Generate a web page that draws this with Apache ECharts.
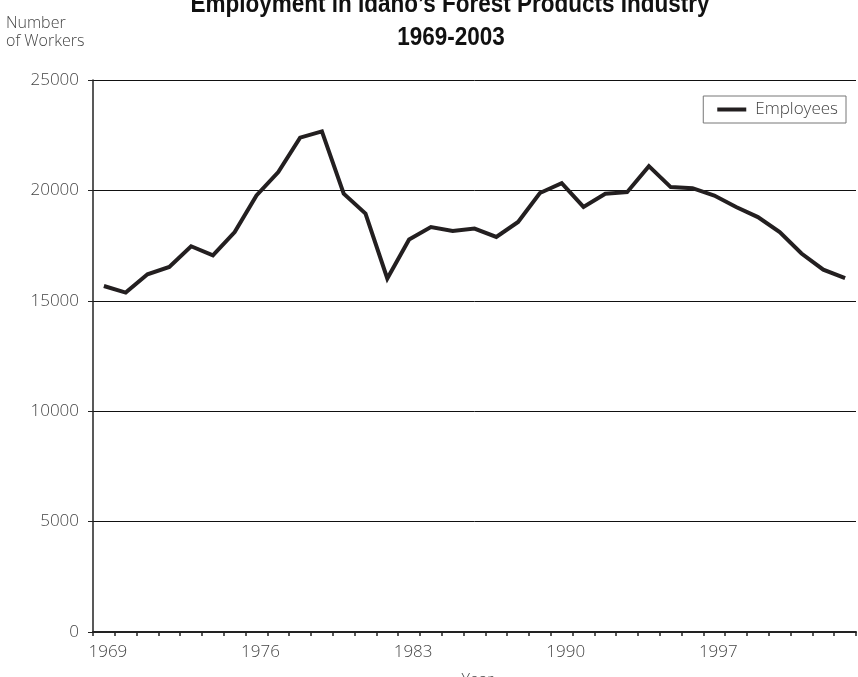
<!DOCTYPE html>
<html>
<head>
<meta charset="utf-8">
<script src="https://cdn.jsdelivr.net/npm/echarts@6/dist/echarts.min.js"></script>
<style>
  html, body { margin: 0; padding: 0; background: #fff; }
  #chart { width: 858px; height: 677px; }
</style>
</head>
<body>
<div id="chart"></div>
<script>
var years = ['1969','1970','1971','1972','1973','1974','1975','1976','1977','1978','1979','1980','1981','1982','1983','1984','1985','1986','1987','1988','1989','1990','1991','1992','1993','1994','1995','1996','1997','1998','1999','2000','2001','2002','2003'];
var employees = [15670,15370,16200,16530,17470,17060,18110,19770,20830,22390,22670,19850,18950,16010,17780,18340,18160,18270,17890,18570,19880,20330,19250,19850,19920,21100,20150,20100,19770,19250,18790,18110,17140,16410,16030];
var yTicks = [0, 5000, 10000, 15000, 20000, 25000];
var titleLine1 = "Employment in Idaho\u2019s Forest Products Industry";
var titleLine2 = "1969-2003";
var yName = "Number\nof Workers";
var xName = "Year";
var seriesName = "Employees";

var labelFont = "'Open Sans', 'Lato', 'DejaVu Sans', sans-serif";
var titleFont = "'Liberation Sans', Arial, sans-serif";
var chart = echarts.init(document.getElementById('chart'), null, { renderer: 'canvas' });
chart.setOption({
  animation: false,
  backgroundColor: '#ffffff',
  graphic: [{
    type: 'text',
    x: 450,
    y: -7,
    scaleX: 0.9,
    style: {
      text: titleLine1,
      fontFamily: titleFont,
      fontWeight: 'bold',
      fontSize: 25,
      align: 'center',
      verticalAlign: 'top',
      fill: '#111111'
    }
  }, {
    type: 'text',
    x: 451,
    y: 26,
    scaleX: 0.9,
    style: {
      text: titleLine2,
      fontFamily: titleFont,
      fontWeight: 'bold',
      fontSize: 25,
      align: 'center',
      verticalAlign: 'top',
      fill: '#111111'
    }
  }, {
    type: 'text',
    left: 6,
    top: 14,
    style: {
      text: yName,
      fontFamily: labelFont,
      fontWeight: 300,
      fontSize: 16,
      lineHeight: 18,
      align: 'center',
      fill: '#444444'
    }
  }],
  legend: {
    right: 12,
    top: 96,
    data: [seriesName],
    icon: 'rect',
    itemWidth: 29,
    itemHeight: 4,
    padding: [5, 8, 5, 14],
    borderColor: '#777777',
    borderWidth: 1,
    borderRadius: 0,
    textStyle: {
      fontFamily: labelFont,
      fontWeight: 300,
      fontSize: 17,
      lineHeight: 16,
      color: '#444444',
      padding: [0, 0, 0, 4]
    }
  },
  grid: {
    left: 93,
    right: 2,
    top: 80,
    bottom: 45,
    containLabel: false,
    outerBoundsMode: 'none'
  },
  xAxis: {
    type: 'category',
    data: years,
    boundaryGap: true,
    name: xName,
    nameLocation: 'middle',
    nameGap: 40,
    nameTextStyle: {
      fontFamily: labelFont,
      fontWeight: 300,
      fontSize: 16,
      color: '#444444',
      padding: [0, 0, 0, 6]
    },
    axisLine: { show: true, lineStyle: { color: '#222222', width: 2 } },
    axisTick: { show: true, interval: 0, length: 4, inside: false, lineStyle: { color: '#222222', width: 1.5 } },
    axisLabel: {
      interval: 6,
      margin: 12,
      fontFamily: labelFont,
      fontWeight: 300,
      fontSize: 17,
      color: '#444444',
      padding: [0, 0, 0, 8]
    },
    splitLine: { show: false }
  },
  yAxis: {
    type: 'value',
    min: 0,
    max: 25000,
    interval: 5000,
    axisLine: { show: true, lineStyle: { color: '#222222', width: 1.5 } },
    axisTick: { show: true, length: 5, lineStyle: { color: '#222222', width: 1 } },
    axisLabel: {
      margin: 14,
      fontFamily: labelFont,
      fontWeight: 300,
      fontSize: 17,
      color: '#444444',
      formatter: function (v) { return yTicks.indexOf(v) >= 0 ? String(v) : ''; }
    },
    splitLine: { show: true, lineStyle: { color: '#111111', width: 1 } }
  },
  series: [{
    name: seriesName,
    type: 'line',
    data: employees,
    symbol: 'none',
    showSymbol: false,
    lineStyle: { color: '#231f20', width: 4, join: 'miter' },
    itemStyle: { color: '#231f20' }
  }]
});
</script>
</body>
</html>
